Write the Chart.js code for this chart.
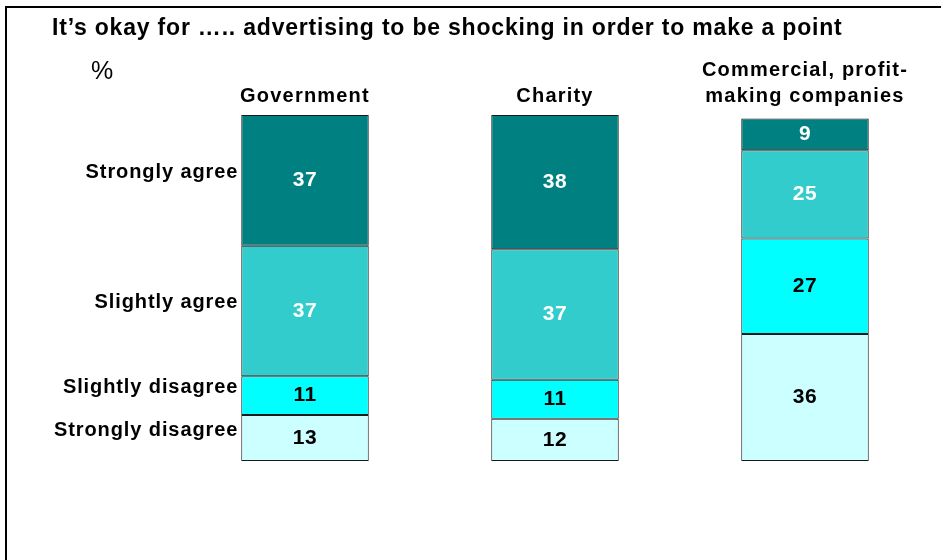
<!DOCTYPE html>
<html>
<head>
<meta charset="utf-8">
<script src="https://cdn.jsdelivr.net/npm/chart.js@4"></script>
<style>
  html, body { margin: 0; padding: 0; background: #fff; }
  #wrap { position: relative; width: 941px; height: 560px; }
</style>
</head>
<body>
<div id="wrap"><canvas id="shockChart" width="941" height="560"></canvas></div>
<script>
  // Survey answers, in % per type of advertiser
  const categories = ['Government', 'Charity', 'Commercial, profit-making companies'];
  const categoryLines = [['Government'], ['Charity'], ['Commercial, profit-', 'making companies']];
  const stronglyAgree = [37, 38, 9];
  const slightlyAgree = [37, 37, 25];
  const slightlyDisagree = [11, 11, 27];
  const stronglyDisagree = [13, 12, 36];
  const answerLabels = ['Strongly disagree', 'Slightly disagree', 'Slightly agree', 'Strongly agree'];

  const FONT = '"Liberation Sans", Arial, Helvetica, sans-serif';
  const COLORS = ['#CCFFFF', '#00FFFF', '#33CCCC', '#008080'];
  const VALUE_TEXT = ['#000000', '#000000', '#FFFFFF', '#FFFFFF'];

  // Frame, title, column headings, answer labels and segment values
  const textPlugin = {
    id: 'textPlugin',
    beforeDraw(chart) {
      const ctx = chart.ctx;
      ctx.save();
      ctx.fillStyle = '#fff';
      ctx.fillRect(0, 0, chart.width, chart.height);
      ctx.fillStyle = '#000';
      ctx.fillRect(5, 6, chart.width - 5, 2);
      ctx.fillRect(5, 6, 2, chart.height - 6);
      ctx.restore();
    },
    afterDatasetsDraw(chart) {
      const ctx = chart.ctx;
      const x = chart.scales.x;
      ctx.save();
      ctx.fillStyle = '#000';
      ctx.textBaseline = 'middle';

      ctx.textAlign = 'left';
      ctx.font = 'bold 23px ' + FONT;
      ctx.letterSpacing = '0.8px';
      ctx.fillText('It\u2019s okay for \u2026.. advertising to be shocking in order to make a point', 52, 29);
      ctx.letterSpacing = '0px';
      ctx.font = '25px ' + FONT;
      ctx.fillText('%', 91, 72);

      // column headings, last line sits just above the bar
      ctx.textAlign = 'center';
      ctx.font = 'bold 20px ' + FONT;
      ctx.letterSpacing = '1.2px';
      categoryLines.forEach((lines, i) => {
        const cx = x.getPixelForValue(i);
        lines.forEach((line, j) => {
          ctx.fillText(line, cx, 96 - (lines.length - 1 - j) * 26);
        });
      });

      // answer labels, lined up with the first column's segments
      ctx.textAlign = 'right';
      ctx.letterSpacing = '0.9px';
      answerLabels.forEach((label, d) => {
        const bar = chart.getDatasetMeta(d).data[0];
        ctx.fillText(label, bar.x - bar.width / 2 - 3, bar.y + bar.height / 2 - 8);
      });

      // values inside each segment
      ctx.textAlign = 'center';
      ctx.letterSpacing = '0.5px';
      ctx.font = 'bold 21px ' + FONT;
      chart.data.datasets.forEach((ds, d) => {
        chart.getDatasetMeta(d).data.forEach((bar, i) => {
          ctx.fillStyle = VALUE_TEXT[d];
          ctx.fillText(String(ds.data[i]), bar.x, bar.y + bar.height / 2);
        });
      });
      ctx.restore();
    }
  };

  const seriesValues = [stronglyDisagree, slightlyDisagree, slightlyAgree, stronglyAgree];

  new Chart(document.getElementById('shockChart'), {
    type: 'bar',
    data: {
      labels: categories,
      datasets: seriesValues.map((values, d) => ({
        label: answerLabels[d],
        data: values,
        backgroundColor: COLORS[d],
        borderColor: '#1a1a1a',
        borderWidth: 1,
        borderSkipped: false,
        barPercentage: 0.51,
        categoryPercentage: 1
      }))
    },
    options: {
      responsive: false,
      animation: false,
      events: [],
      layout: { padding: { left: 180, right: 11, top: 108, bottom: 99 } },
      plugins: {
        legend: { display: false },
        tooltip: { enabled: false }
      },
      scales: {
        x: { stacked: true, display: false },
        y: { stacked: true, display: false, min: 0, max: 100 }
      }
    },
    plugins: [textPlugin]
  });
</script>
</body>
</html>
